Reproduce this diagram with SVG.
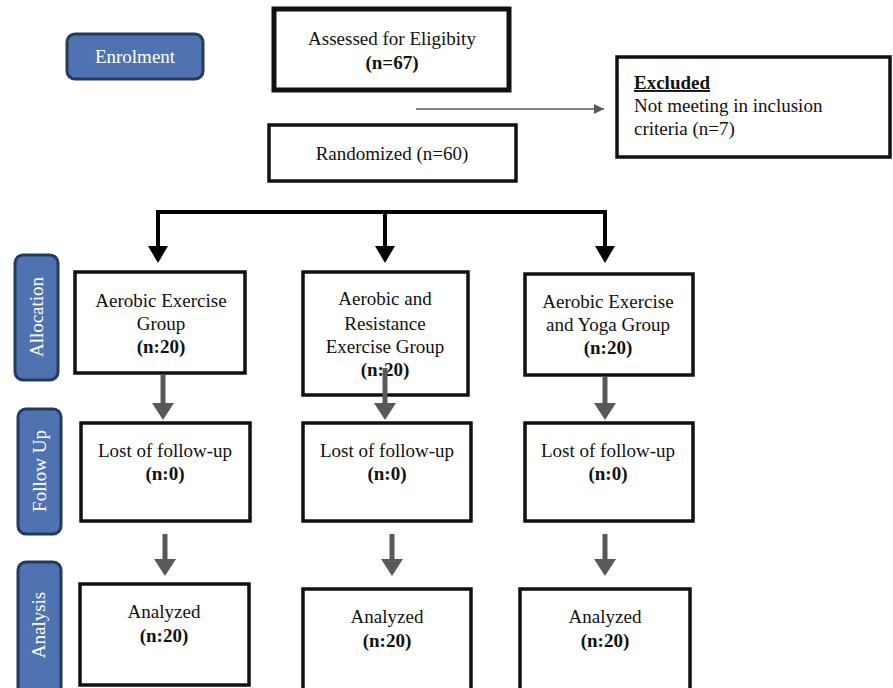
<svg xmlns="http://www.w3.org/2000/svg" width="893" height="688" viewBox="0 0 893 688">
<style>
text{font-family:"Liberation Serif","Times New Roman",serif;font-size:19px;fill:#111;}
.c{text-anchor:middle;}
.b{font-weight:bold;}
.box{fill:#fff;stroke:#111;stroke-width:3.5;}
.lab{fill:#4f73b0;stroke:#253a63;stroke-width:3;}
.lt{fill:#fff;font-size:19px;text-anchor:middle;}
.blk{stroke:#000;stroke-width:4;fill:none;}
.gry{stroke:#595959;stroke-width:5;fill:none;}
</style>
<defs>
<marker id="at" markerWidth="10" markerHeight="10" refX="10" refY="5" orient="auto" markerUnits="userSpaceOnUse" viewBox="0 0 10 10"><path d="M0,0 L10,5 L0,10 z" fill="#595959"/></marker>
</defs>

<g id="label-enrolment"><rect class="lab" x="67" y="34" width="136" height="45" rx="8"/><text class="lt" x="135" y="63">Enrolment</text></g>
<g id="label-allocation"><rect class="lab" x="15" y="255" width="43" height="125" rx="8"/><text class="lt" transform="translate(43,317) rotate(-90)">Allocation</text></g>
<g id="label-followup"><rect class="lab" x="18" y="409" width="43" height="125" rx="8"/><text class="lt" transform="translate(46,471) rotate(-90)">Follow Up</text></g>
<g id="label-analysis"><rect class="lab" x="18" y="562" width="43" height="135" rx="8"/><text class="lt" transform="translate(45,625) rotate(-90)">Analysis</text></g>

<g id="assessed"><rect class="box" x="274" y="9" width="235" height="81" style="stroke-width:5"/><text class="c" x="392" y="45">Assessed for Eligibity</text><text class="c b" x="392" y="69">(n=67)</text></g>
<g id="randomized"><rect class="box" x="269" y="125" width="247" height="56"/><text class="c" x="392" y="160">Randomized (n=60)</text></g>
<g id="excluded"><rect class="box" x="617" y="57" width="273" height="100"/><text x="634" y="89" class="b" text-decoration="underline">Excluded</text><text x="634" y="112">Not meeting in inclusion</text><text x="634" y="135">criteria (n=7)</text></g>

<g id="alloc1"><rect class="box" x="75" y="272" width="170" height="101"/><text class="c" x="161" y="307">Aerobic Exercise</text><text class="c" x="161" y="330">Group</text><text class="c b" x="161" y="353">(n:20)</text></g>
<g id="alloc2"><rect class="box" x="303" y="272" width="165" height="123"/><text class="c" x="385" y="305">Aerobic and</text><text class="c" x="385" y="330">Resistance</text><text class="c" x="385" y="353">Exercise Group</text><text class="c b" x="385" y="376">(n:20)</text></g>
<g id="alloc3"><rect class="box" x="525" y="274" width="168" height="101"/><text class="c" x="608" y="308">Aerobic Exercise</text><text class="c" x="608" y="331">and Yoga Group</text><text class="c b" x="608" y="354">(n:20)</text></g>

<g id="follow1"><rect class="box" x="81" y="423" width="169" height="98"/><text class="c" x="165" y="457">Lost of follow-up</text><text class="c b" x="165" y="480">(n:0)</text></g>
<g id="follow2"><rect class="box" x="303" y="423" width="168" height="98"/><text class="c" x="387" y="457">Lost of follow-up</text><text class="c b" x="387" y="480">(n:0)</text></g>
<g id="follow3"><rect class="box" x="525" y="423" width="168" height="98"/><text class="c" x="608" y="457">Lost of follow-up</text><text class="c b" x="608" y="480">(n:0)</text></g>

<g id="analysis1"><rect class="box" x="80" y="584" width="169" height="101"/><text class="c" x="164" y="618">Analyzed</text><text class="c b" x="164" y="642">(n:20)</text></g>
<g id="analysis2"><rect class="box" x="303" y="589" width="168" height="101"/><text class="c" x="387" y="623">Analyzed</text><text class="c b" x="387" y="647">(n:20)</text></g>
<g id="analysis3"><rect class="box" x="520" y="589" width="170" height="101"/><text class="c" x="605" y="623">Analyzed</text><text class="c b" x="605" y="647">(n:20)</text></g>

<g id="connectors">
<line x1="416" y1="109" x2="604" y2="109" stroke="#595959" stroke-width="1.5" marker-end="url(#at)"/>
<path class="blk" d="M158,250 V212 H605 V250" />
<line class="blk" x1="385" y1="212" x2="385" y2="250"/>
<path d="M148,246 L168,246 L158,263 z" fill="#000"/>
<path d="M375,246 L395,246 L385,263 z" fill="#000"/>
<path d="M595,246 L615,246 L605,263 z" fill="#000"/>

<line class="gry" x1="163" y1="375" x2="163" y2="405"/><path d="M152,403 L174,403 L163,420 z" fill="#595959"/>
<line class="gry" x1="385" y1="368" x2="385" y2="405"/><path d="M374,403 L396,403 L385,420 z" fill="#595959"/>
<line class="gry" x1="605" y1="377" x2="605" y2="405"/><path d="M594,403 L616,403 L605,420 z" fill="#595959"/>

<line class="gry" x1="165" y1="534" x2="165" y2="561"/><path d="M154,559 L176,559 L165,576 z" fill="#595959"/>
<line class="gry" x1="392" y1="534" x2="392" y2="561"/><path d="M381,559 L403,559 L392,576 z" fill="#595959"/>
<line class="gry" x1="605" y1="534" x2="605" y2="561"/><path d="M594,559 L616,559 L605,576 z" fill="#595959"/>
</g>
</svg>
